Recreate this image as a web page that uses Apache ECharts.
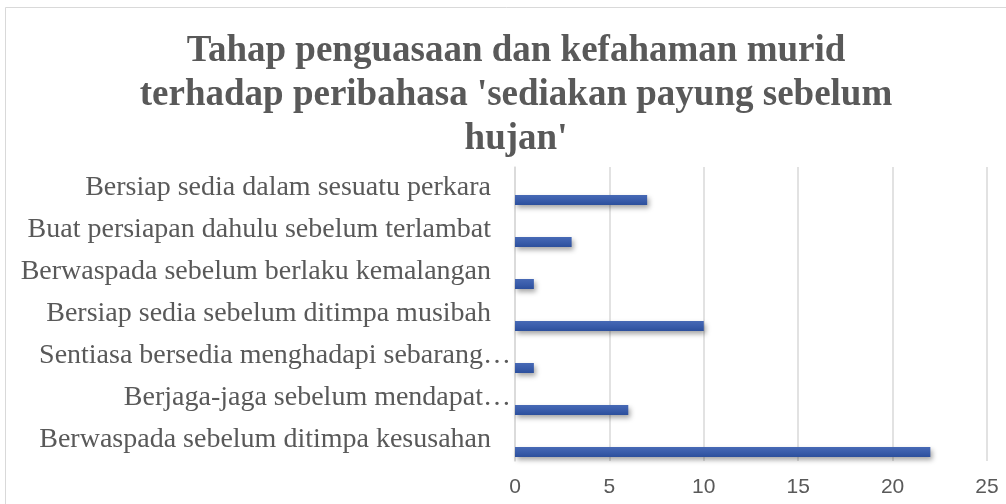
<!DOCTYPE html>
<html>
<head>
<meta charset="utf-8">
<script src="https://cdn.jsdelivr.net/npm/echarts@6/dist/echarts.min.js"></script>
<style>
  html, body { margin: 0; padding: 0; background: #fff; }
  #chart { width: 1006px; height: 504px; }
</style>
</head>
<body>
<div id="chart"></div>
<script>
// categories from bottom to top (as on the axis)
const categories = [
  'Berwaspada sebelum ditimpa kesusahan',
  'Berjaga-jaga sebelum mendapat…',
  'Sentiasa bersedia menghadapi sebarang…',
  'Bersiap sedia sebelum ditimpa musibah',
  'Berwaspada sebelum berlaku kemalangan',
  'Buat persiapan dahulu sebelum terlambat',
  'Bersiap sedia dalam sesuatu perkara'
];
const values = [22, 6, 1, 10, 1, 3, 7];
const emptyValues = [0, 0, 0, 0, 0, 0, 0];
const xTicks = [0, 5, 10, 15, 20, 25];
const titleText = "Tahap penguasaan dan kefahaman murid\nterhadap peribahasa 'sediakan payung sebelum\nhujan'";

const chart = echarts.init(document.getElementById('chart'));

const serif = '"Liberation Serif", "Times New Roman", serif';

const option = {
  backgroundColor: '#fff',
  animation: false,
  title: {
    text: titleText,
    left: 511,
    textAlign: 'center',
    top: 24,
    textStyle: {
      fontFamily: serif,
      fontSize: 37,
      fontWeight: 'bold',
      color: '#595959',
      lineHeight: 44
    }
  },
  graphic: [{
    type: 'rect',
    shape: { x: 5.5, y: 7.5, width: 1100, height: 600 },
    style: { fill: 'none', stroke: '#d9d9d9', lineWidth: 1 },
    silent: true
  }],
  grid: {
    left: 515,
    right: 19,
    top: 167,
    bottom: 43,
    containLabel: false
  },
  xAxis: {
    type: 'value',
    min: xTicks[0],
    max: xTicks[xTicks.length - 1],
    interval: 5,
    axisLine: { show: false },
    axisTick: { show: false },
    splitLine: { lineStyle: { color: '#d9d9d9', width: 1.5 } },
    axisLabel: {
      margin: 16,
      fontFamily: '"Liberation Sans", Arial, sans-serif',
      fontSize: 21,
      color: '#595959'
    }
  },
  yAxis: {
    type: 'category',
    data: categories,
    axisLine: { show: true, lineStyle: { color: '#d9d9d9', width: 1.5 } },
    axisTick: { show: false },
    axisLabel: {
      margin: 3,
      formatter: function (v) {
        return v.slice(-1) === '…' ? '{t|' + v + '}' : '{n|' + v + '}';
      },
      rich: {
        n: { fontFamily: serif, fontSize: 28, color: '#595959', padding: [0, 21, 0, 0] },
        t: { fontFamily: serif, fontSize: 28, color: '#595959', padding: [0, 1, 0, 0] }
      }
    }
  },
  series: [
    {
      type: 'bar',
      data: emptyValues,
      barWidth: 10,
      barGap: '140%',
      itemStyle: { color: 'rgba(0,0,0,0)' }
    },
    {
      type: 'bar',
      data: values,
      barWidth: 10,
      barGap: '140%',
      itemStyle: {
        color: new echarts.graphic.LinearGradient(0, 0, 0, 1, [
          { offset: 0, color: '#4769b5' },
          { offset: 0.5, color: '#3a5dab' },
          { offset: 1, color: '#2c4f9c' }
        ]),
        shadowBlur: 5,
        shadowOffsetX: 2,
        shadowOffsetY: 3,
        shadowColor: 'rgba(0,0,0,0.35)'
      }
    }
  ]
};

chart.setOption(option);
</script>
</body>
</html>
